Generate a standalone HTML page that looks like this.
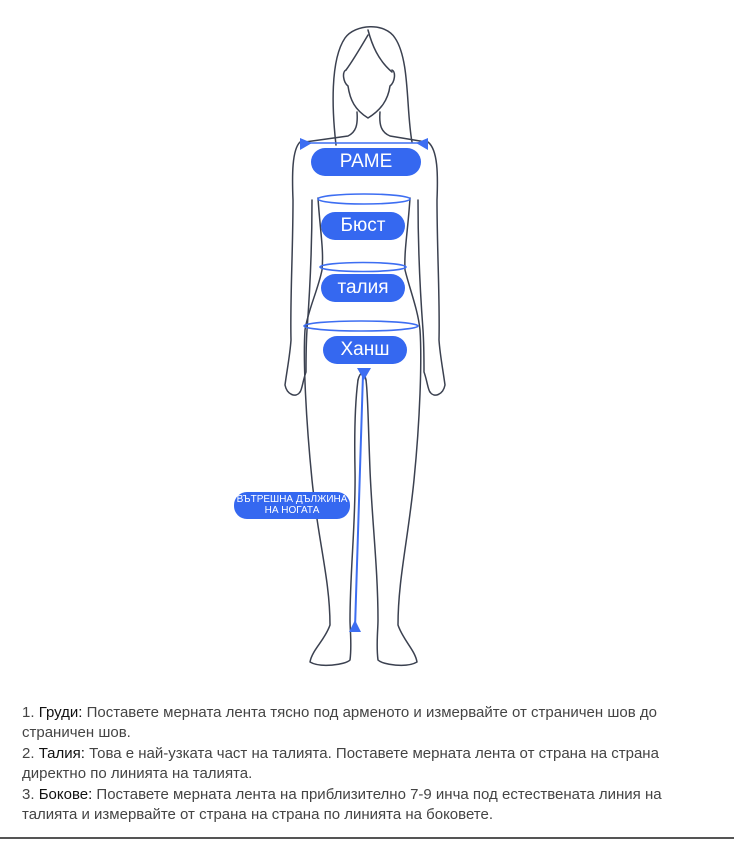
<!DOCTYPE html>
<html><head><meta charset="utf-8"><style>
body{margin:0;width:734px;height:841px;background:#fff;position:relative;overflow:hidden;font-family:"Liberation Sans","DejaVu Sans",sans-serif}
.pill{position:absolute;background:#3568f0;color:#fff;border-radius:14px;text-align:center;font-size:19px;line-height:28px;height:28px}
.txt{position:absolute;left:22px;top:703px;font-size:15px;line-height:20.4px;color:#444;width:720px;white-space:nowrap}
.txt b{font-weight:normal;color:#111}
</style></head><body>
<svg width="734" height="841" style="position:absolute;left:0;top:0" fill="none" stroke="#3b4150" stroke-width="1.5" stroke-linejoin="round" stroke-linecap="round">
<path d="M336,145 C332,110 330,60 345,38 C355,24 385,22 395,38 C410,60 406,110 412,142"/>
<path d="M368,30 C372,45 378,60 392,72"/>
<path d="M346,70 C342,72 343,82 348,86 C350,100 355,110 368,118 C381,110 388,100 390,86 C395,82 396,72 392,70"/>
<path d="M346,70 C352,62 358,52 368,35"/>
<path d="M357,112 C358,125 356,132 348,136 L305,142"/>
<path d="M380,112 C379,125 381,132 390,136 L426,142"/>
<path d="M300,142 C292,150 292,175 293,200 C293,250 290,300 291,340 C290,355 287,370 285,385 C287,395 296,398 300,392"/>
<path d="M312,200 C312,240 310,290 307,330 C306,345 306,360 306,372 C303,380 302,390 300,392"/>
<path d="M318,198 C320,230 324,250 322,270 C318,290 308,310 305,330 C303,360 306,420 312,480 C318,540 330,580 330,625 C325,640 312,650 310,662 C320,668 345,665 350,660 C352,645 350,630 350,620 C350,570 356,520 355,470 C354,420 356,395 358,380"/>
<path d="M428,142 C438,150 438,175 437,200 C437,250 440,300 439,340 C440,355 443,370 445,385 C443,395 434,398 430,392"/>
<path d="M418,200 C418,240 420,290 423,330 C424,345 424,360 424,372 C427,380 428,390 430,392"/>
<path d="M410,198 C408,230 404,250 405,270 C410,290 418,310 420,330 C422,360 420,420 414,480 C408,540 398,580 398,625 C403,640 415,650 417,662 C407,668 383,665 378,660 C376,645 378,630 378,620 C378,570 372,520 370,470 C368,420 368,395 366,380"/>
<path d="M358,380 C360,372 364,370 366,380"/>
</svg>
<svg width="734" height="841" style="position:absolute;left:0;top:0">
<g fill="none" stroke="#3d6ef2" stroke-width="1.6">
<line x1="302" y1="143" x2="426" y2="143"/>
<ellipse cx="364" cy="199" rx="46" ry="5"/>
<ellipse cx="363" cy="267" rx="43" ry="4.5"/>
<ellipse cx="361" cy="326" rx="57" ry="5"/>
<line x1="363" y1="374" x2="355" y2="628" stroke-width="2"/>
</g>
<g fill="#3d6ef2">
<polygon points="300,138 312,143 300,150"/>
<polygon points="428,138 416,143 428,150"/>
<polygon points="357,368 371,368 364,380"/>
<polygon points="349,632 361,632 355,620"/>
</g>
</svg>
<div class="pill" style="left:311px;top:148px;width:110px">РАМЕ</div>
<div class="pill" style="left:321px;top:212px;width:84px">Бюст</div>
<div class="pill" style="left:321px;top:274px;width:84px">талия</div>
<div class="pill" style="left:323px;top:336px;width:84px">Ханш</div>
<div class="pill" style="left:234px;top:492px;width:116px;height:27px;font-size:10px;line-height:11px;padding-top:2px;box-sizing:border-box;border-radius:13px">ВЪТРЕШНА ДЪЛЖИНА<br>НА НОГАТА</div>
<div class="txt">1. <b>Груди:</b> Поставете мерната лента тясно под арменото и измервайте от страничен шов до<br>страничен шов.<br>2. <b>Талия:</b> Това е най-узката част на талията. Поставете мерната лента от страна на страна<br>директно по линията на талията.<br>3. <b>Бокове:</b> Поставете мерната лента на приблизително 7-9 инча под естествената линия на<br>талията и измервайте от страна на страна по линията на боковете.</div>
<div style="position:absolute;left:0;top:837px;width:734px;height:2px;background:#555"></div>
</body></html>
